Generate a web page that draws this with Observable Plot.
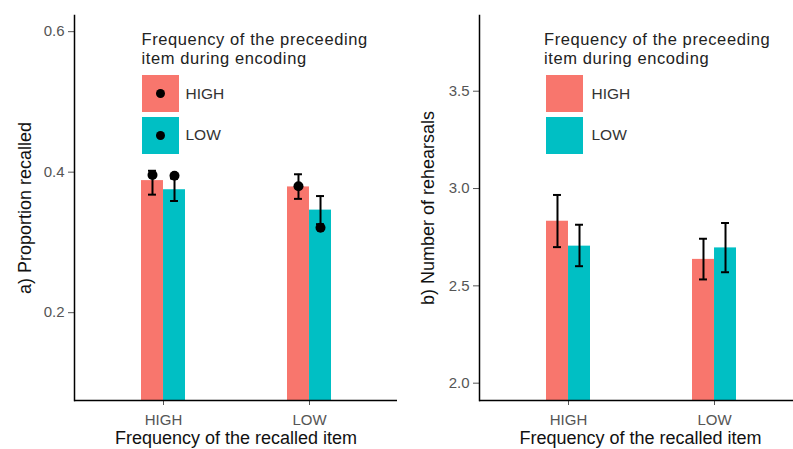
<!DOCTYPE html>
<html>
<head>
<meta charset="utf-8">
<script src="https://cdn.jsdelivr.net/npm/d3@7"></script>
<script src="https://cdn.jsdelivr.net/npm/@observablehq/plot@0.6"></script>
<style>
  html, body { margin: 0; padding: 0; background: #fff; }
  #wrap { display: flex; width: 793px; height: 449px; font-family: "Liberation Sans", Arial, sans-serif; }
  .panel { position: relative; }
  .legend { position: absolute; color: #222; }
  .legend .ttl { font-size: 16.5px; line-height: 19px; letter-spacing: 0.6px; white-space: nowrap; }
  .legend .row { position: absolute; left: 0; display: flex; align-items: center; }
  .legend .key { width: 37px; height: 37px; position: relative; }
  .legend .key .pt { position: absolute; width: 9px; height: 9px; border-radius: 50%; background: #000; left: 14px; top: 14px; }
  .legend .lab { font-size: 15.5px; color: #333; margin-left: 7px; }
</style>
</head>
<body>
<div id="wrap"></div>
<script>
// ---- categories ----
const recalled = ["HIGH", "LOW"];          // x groups: frequency of the recalled item
const preceding = ["HIGH", "LOW"];         // series: frequency of preceding item
const seriesColors = ["#F8766D", "#00BFC4"];

// ---- panel a) proportion recalled (per series, ordered by recalled) ----
const propMeanHigh = [0.388, 0.379];
const propMeanLow  = [0.375, 0.346];
const propLoHigh   = [0.368, 0.362];
const propHiHigh   = [0.402, 0.397];
const propLoLow    = [0.359, 0.326];
const propHiLow    = [0.391, 0.366];
const propPointHigh = [0.396, 0.380];
const propPointLow  = [0.395, 0.321];
const propTicks = [0.2, 0.4, 0.6];
const propDomain = [0.075, 0.623];

// ---- panel b) number of rehearsals ----
const rehMeanHigh = [2.832, 2.636];
const rehMeanLow  = [2.704, 2.695];
const rehLoHigh   = [2.699, 2.533];
const rehHiHigh   = [2.967, 2.742];
const rehLoLow    = [2.601, 2.570];
const rehHiLow    = [2.814, 2.823];
const rehTicks = [2.0, 2.5, 3.0, 3.5];
const rehDomain = [1.911, 3.889];

const xTitle = "Frequency of the recalled item";
const legendTitle = ["Frequency of the preceeding", "item during encoding"];

function rows(means, los, his, points) {
  const out = [];
  preceding.forEach((s, k) => {
    recalled.forEach((r, i) => {
      out.push({recalled: r, preceding: s, k, mean: means[k][i], lo: los[k][i], hi: his[k][i],
                point: points ? points[k][i] : null});
    });
  });
  return out;
}

const PI = 0.7, PO = 0.45;

function panel({data, width, marginLeft, marginRight, xRange, yDomain, yTicks, yTitle, yTitleDx, xTitleDx, withPoints}) {
  const step = (xRange[1] - xRange[0]) / (recalled.length - PI + 2 * PO);
  const bw = step * (1 - PI);
  const half = bw / 2;
  const capW = 8;
  const marks = [];
  preceding.forEach((s, k) => {
    const sub = data.filter(d => d.preceding === s);
    marks.push(Plot.barY(sub, {
      x: "recalled", y1: () => yDomain[0], y2: "mean", fill: seriesColors[k],
      insetLeft: k === 0 ? 0 : half, insetRight: k === 0 ? half : 0
    }));
  });
  preceding.forEach((s, k) => {
    const sub = data.filter(d => d.preceding === s);
    const dx = (k === 0 ? -1 : 1) * bw / 4;
    marks.push(Plot.ruleX(sub, {x: "recalled", y1: "lo", y2: "hi", dx, stroke: "#000", strokeWidth: 2}));
    const inL = bw / 4 - capW / 2 + k * half;
    const inR = bw - (bw / 4 + capW / 2 + k * half);
    for (const key of ["lo", "hi"]) {
      marks.push(Plot.tickY(sub, {x: "recalled", y: key, insetLeft: inL, insetRight: inR, stroke: "#000", strokeWidth: 2}));
    }
    if (withPoints) {
      marks.push(Plot.dot(sub, {x: "recalled", y: "point", dx, r: 5, fill: "#000", stroke: "none"}));
    }
  });
  marks.push(Plot.ruleY([yDomain[0]], {stroke: "#000", strokeWidth: 1.5}));
  marks.push(Plot.frame({anchor: "left", stroke: "#000", strokeWidth: 1.5}));
  marks.push(Plot.text([yTitle], {frameAnchor: "left", rotate: -90, dx: yTitleDx, textAnchor: "middle", lineAnchor: "middle", fontSize: 18, fill: "#111"}));
  marks.push(Plot.text([xTitle], {frameAnchor: "bottom", dy: 38, dx: xTitleDx, textAnchor: "middle", lineAnchor: "middle", fontSize: 18, fill: "#111"}));
  return Plot.plot({
    width, height: 449,
    marginLeft, marginRight, marginTop: 15, marginBottom: 49,
    style: {fontFamily: "Liberation Sans, Arial, sans-serif", fontSize: "15px", color: "#555", background: "#fff"},
    x: {domain: recalled, range: xRange, paddingInner: PI, paddingOuter: PO, label: null, tickSize: 5, tickPadding: 9},
    y: {domain: yDomain, ticks: yTicks, tickFormat: d3.format(".1f"), label: null, tickSize: 6, tickPadding: 4},
    marks
  });
}

function legend(left, withPoints) {
  const div = document.createElement("div");
  div.className = "legend";
  div.style.left = left + "px";
  div.style.top = "30px";
  legendTitle.forEach(line => {
    const t = document.createElement("div");
    t.className = "ttl";
    t.textContent = line;
    div.appendChild(t);
  });
  preceding.forEach((s, k) => {
    const row = document.createElement("div");
    row.className = "row";
    row.style.top = (45 + k * 41.7) + "px";
    const key = document.createElement("div");
    key.className = "key";
    key.style.background = seriesColors[k];
    if (withPoints) { const p = document.createElement("div"); p.className = "pt"; key.appendChild(p); }
    const lab = document.createElement("div");
    lab.className = "lab";
    lab.textContent = s;
    row.appendChild(key); row.appendChild(lab);
    div.appendChild(row);
  });
  return div;
}

const wrap = document.getElementById("wrap");

const dataA = rows([propMeanHigh, propMeanLow], [propLoHigh, propLoLow], [propHiHigh, propHiLow], [propPointHigh, propPointLow]);
const dataB = rows([rehMeanHigh, rehMeanLow], [rehLoHigh, rehLoLow], [rehHiHigh, rehHiLow], null);

const pa = document.createElement("div"); pa.className = "panel";
pa.appendChild(panel({data: dataA, width: 400, marginLeft: 74, marginRight: 3, xRange: [74, 397],
  yDomain: propDomain, yTicks: propTicks, yTitle: "a) Proportion recalled", yTitleDx: -49, xTitleDx: 0, withPoints: true}));
pa.appendChild(legend(141.5, true));
wrap.appendChild(pa);

const pb = document.createElement("div"); pb.className = "panel";
pb.appendChild(panel({data: dataB, width: 393, marginLeft: 79, marginRight: 0, xRange: [79, 402],
  yDomain: rehDomain, yTicks: rehTicks, yTitle: "b) Number of rehearsals", yTitleDx: -51.5, xTitleDx: 4, withPoints: false}));
const lb = legend(144, false);
lb.querySelectorAll(".row").forEach(r => r.style.left = "2px");
lb.querySelectorAll(".lab").forEach(l => l.style.marginLeft = "8.5px");
pb.appendChild(lb);
wrap.appendChild(pb);
</script>
</body>
</html>
